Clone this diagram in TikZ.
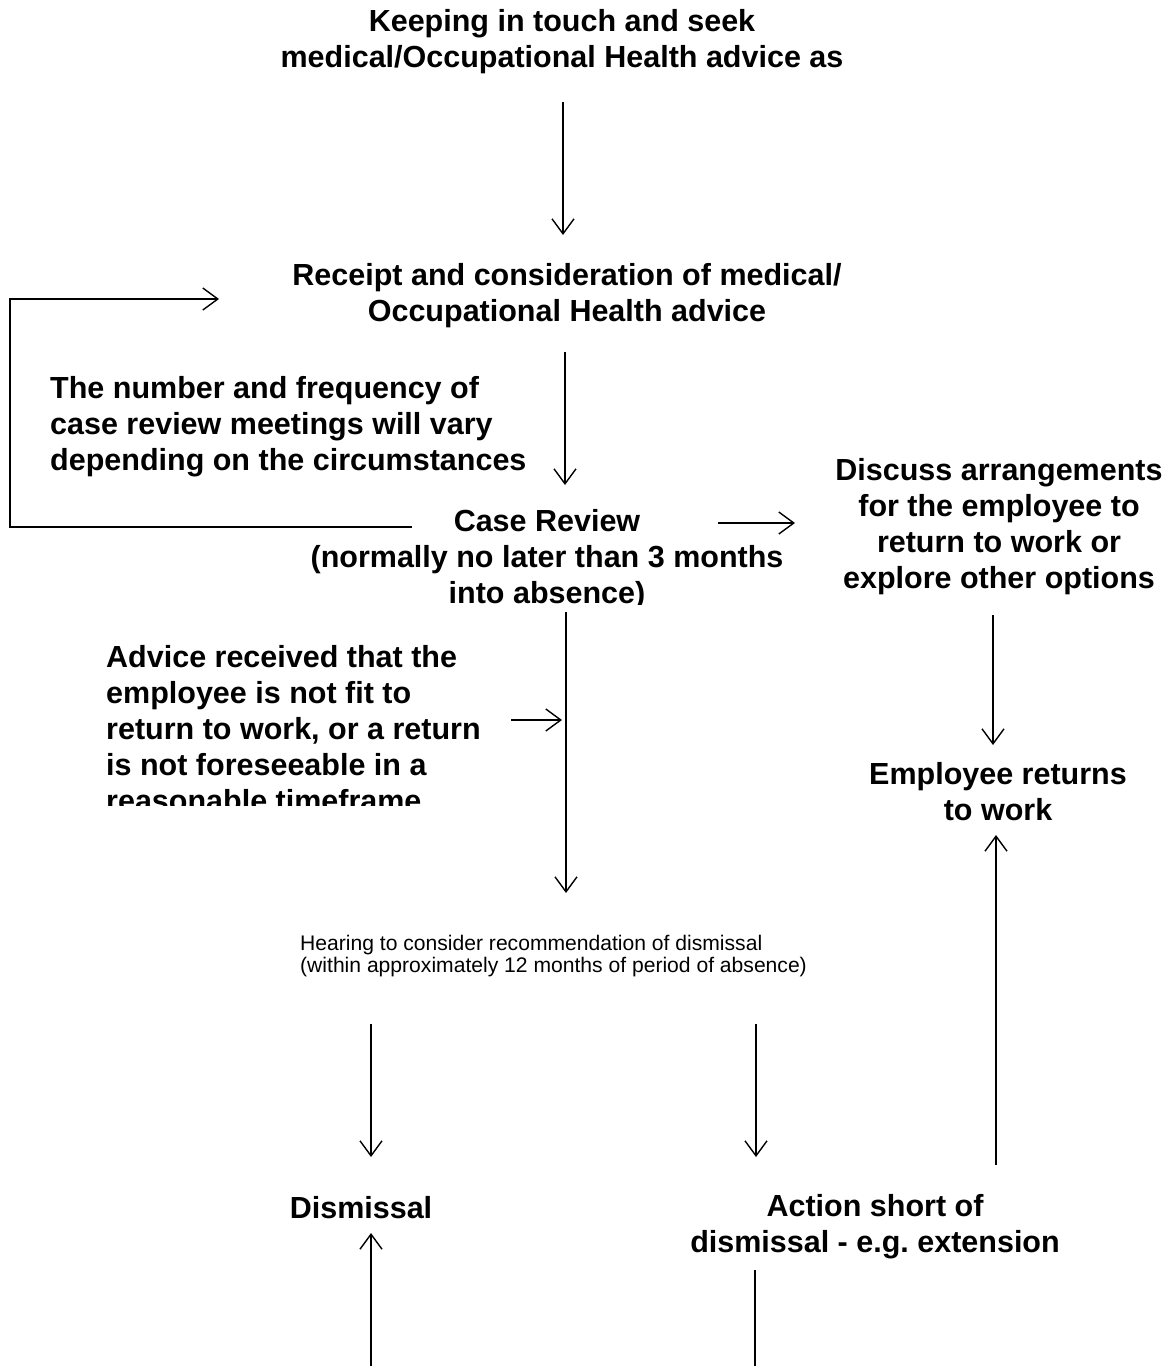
\documentclass[tikz,border=0pt]{standalone}
\usepackage{fontspec}
\setmainfont{Liberation Sans}
\usetikzlibrary{arrows.meta}
\begin{document}
\begin{tikzpicture}[x=1pt,y=-1pt,
  big/.style={font=\bfseries\fontsize{30.5}{36}\selectfont, align=center, inner sep=0pt},
  bigleft/.style={big, align=left, anchor=west},
  small/.style={font=\fontsize{21.1}{22.5}\selectfont, align=left, anchor=west, inner sep=0pt},
  ln/.style={line width=1.4pt},
  arr/.style={ln, -{Straight Barb[length=15pt,width=22pt,line width=1.4pt]}}]
\useasboundingbox (0,0) rectangle (1175,1366);

% texts
\node[big] (keep) at (562,42) {Keeping in touch and seek\\medical/Occupational Health advice as};
\node[big] (receipt) at (567,296) {Receipt and consideration of medical/\\Occupational Health advice};
\node[bigleft] (number) at (50,427) {The number and frequency of\\case review meetings will vary\\depending on the circumstances};
\begin{scope}
  \clip (0,0) rectangle (1175,604);
  \node[big] (case) at (547,560) {Case Review\\(normally no later than 3 months\\into absence)};
\end{scope}
\node[big] (discuss) at (999,527) {Discuss arrangements\\for the employee to\\return to work or\\explore other options};
\node[big] (returns) at (998,792) {Employee returns\\to work};
\begin{scope}
  \clip (0,0) rectangle (1175,805);
  \node[bigleft] (advice) at (106,729) {Advice received that the\\employee is not fit to\\return to work, or a return\\is not foreseeable in a\\reasonable timeframe};
\end{scope}
\node[small] (hearing) at (300,956) {Hearing to consider recommendation of dismissal\\(within approximately 12 months of period of absence)};
\node[big] (dismissal) at (361,1208) {Dismissal};
\node[big] (action) at (875,1227) {Action short of\\dismissal - e.g.\ extension};

% connector end points
\coordinate (k1) at (563,102);   \coordinate (k2) at (563,235);
\coordinate (r1) at (565,352);   \coordinate (r2) at (565,485);
\coordinate (c1) at (412,527);   \coordinate (cL) at (10,527);
\coordinate (rL) at (10,299);    \coordinate (r0) at (219,299);
\coordinate (c2) at (718,523);   \coordinate (d0) at (795,523);
\coordinate (d1) at (993,615);   \coordinate (d2) at (993,745);
\coordinate (c3) at (566,612);   \coordinate (h0) at (566,893);
\coordinate (a1) at (511,720);   \coordinate (a2) at (562,720);
\coordinate (h1) at (371,1024);  \coordinate (m0) at (371,1157);
\coordinate (h2) at (756,1024);  \coordinate (s0) at (756,1157);
\coordinate (b1) at (371,1366);  \coordinate (m1) at (371,1233);
\coordinate (s1) at (755,1270);  \coordinate (b2) at (755,1366);
\coordinate (e1) at (996,1165);  \coordinate (e2) at (996,835);

% connectors
\draw[arr] (k1) -- (k2);
\draw[arr] (r1) -- (r2);
\draw[arr] (c1) -- (cL) -- (rL) -- (r0);
\draw[arr] (c2) -- (d0);
\draw[arr] (d1) -- (d2);
\draw[arr] (c3) -- (h0);
\draw[arr] (a1) -- (a2);
\draw[arr] (h1) -- (m0);
\draw[arr] (h2) -- (s0);
\draw[arr] (b1) -- (m1);
\draw[ln] (s1) -- (b2);
\draw[arr] (e1) -- (e2);
\end{tikzpicture}
\end{document}
